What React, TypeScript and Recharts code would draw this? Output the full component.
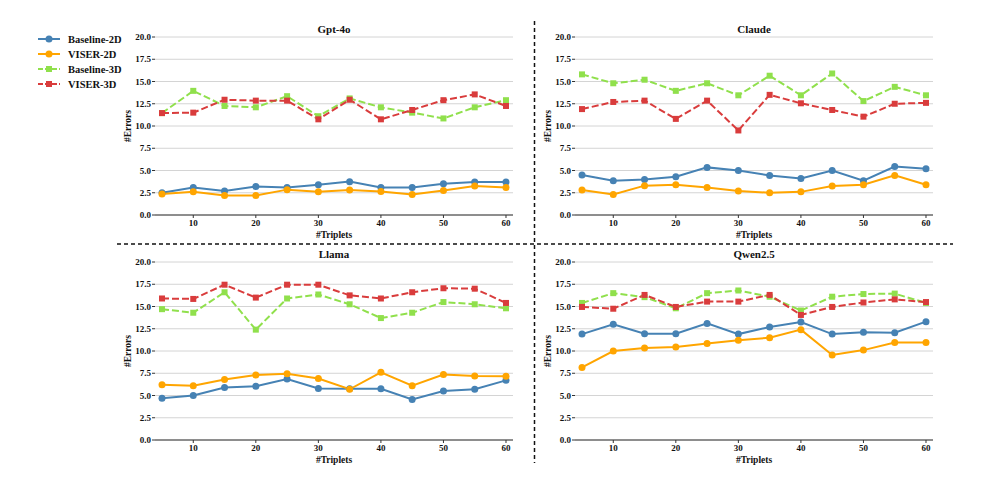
import { LineChart, Line, XAxis, YAxis, CartesianGrid } from "recharts"

const TRIPLETS = [5, 10, 15, 20, 25, 30, 35, 40, 45, 50, 55, 60]
const X_TICKS = [10, 20, 30, 40, 50, 60]
const Y_TICKS = [0, 2.5, 5, 7.5, 10, 12.5, 15, 17.5, 20]

// Gpt-4o
const gptBaseline2D = [2.5, 3.1, 2.7, 3.2, 3.1, 3.4, 3.75, 3.1, 3.1, 3.5, 3.7, 3.7]
const gptViser2D = [2.35, 2.6, 2.2, 2.2, 2.85, 2.6, 2.8, 2.65, 2.3, 2.75, 3.25, 3.1]
const gptBaseline3D = [11.45, 13.95, 12.25, 12.1, 13.35, 11.1, 13.1, 12.1, 11.5, 10.85, 12.1, 12.9]
const gptViser3D = [11.45, 11.5, 12.95, 12.85, 12.85, 10.75, 12.95, 10.75, 11.8, 12.9, 13.55, 12.25]

// Claude
const claudeBaseline2D = [4.5, 3.85, 4.0, 4.3, 5.35, 5.0, 4.45, 4.1, 5.0, 3.85, 5.45, 5.2]
const claudeViser2D = [2.8, 2.3, 3.3, 3.4, 3.1, 2.7, 2.5, 2.6, 3.25, 3.4, 4.45, 3.4]
const claudeBaseline3D = [15.8, 14.8, 15.2, 13.95, 14.8, 13.45, 15.65, 13.45, 15.9, 12.8, 14.4, 13.45]
const claudeViser3D = [11.9, 12.7, 12.85, 10.8, 12.85, 9.5, 13.5, 12.55, 11.8, 11.05, 12.5, 12.6]

// Llama
const llamaBaseline2D = [4.7, 5.0, 5.9, 6.05, 6.85, 5.8, 5.75, 5.75, 4.55, 5.5, 5.7, 6.7]
const llamaViser2D = [6.2, 6.1, 6.8, 7.3, 7.45, 6.9, 5.7, 7.6, 6.1, 7.35, 7.2, 7.15]
const llamaBaseline3D = [14.7, 14.3, 16.6, 12.4, 15.9, 16.35, 15.25, 13.7, 14.3, 15.5, 15.25, 14.8]
const llamaViser3D = [15.9, 15.85, 17.45, 16.0, 17.45, 17.45, 16.25, 15.9, 16.6, 17.05, 17.0, 15.4]

// Qwen2.5
const qwenBaseline2D = [11.9, 13.0, 11.95, 11.95, 13.1, 11.9, 12.7, 13.25, 11.9, 12.1, 12.05, 13.3]
const qwenViser2D = [8.15, 10.0, 10.35, 10.45, 10.85, 11.2, 11.5, 12.4, 9.55, 10.1, 10.95, 10.95]
const qwenBaseline3D = [15.4, 16.5, 16.05, 14.8, 16.5, 16.8, 16.1, 14.55, 16.1, 16.4, 16.45, 15.4]
const qwenViser3D = [14.95, 14.75, 16.3, 14.95, 15.55, 15.55, 16.3, 14.05, 14.95, 15.45, 15.8, 15.5]

const SERIES = [
  { key: "baseline2d", name: "Baseline-2D", color: "#4682b4", dashed: false },
  { key: "viser2d", name: "VISER-2D", color: "#ffa500", dashed: false },
  { key: "baseline3d", name: "Baseline-3D", color: "#90e04c", dashed: true },
  { key: "viser3d", name: "VISER-3D", color: "#d93c3c", dashed: true },
]

const PANELS = [
  { title: "Gpt-4o", values: [gptBaseline2D, gptViser2D, gptBaseline3D, gptViser3D], left: 100, top: 20 },
  { title: "Claude", values: [claudeBaseline2D, claudeViser2D, claudeBaseline3D, claudeViser3D], left: 520, top: 20 },
  { title: "Llama", values: [llamaBaseline2D, llamaViser2D, llamaBaseline3D, llamaViser3D], left: 100, top: 245 },
  { title: "Qwen2.5", values: [qwenBaseline2D, qwenViser2D, qwenBaseline3D, qwenViser3D], left: 520, top: 245 },
]

const FONT = '"Liberation Serif", "Times New Roman", serif'
const CHART_W = 420
const CHART_H = 225
const Y_AXIS_W = 55

function makeDot(color: string, square: boolean) {
  return (props: any) => {
    const { cx, cy, index } = props
    if (cx == null || cy == null) return <g key={index} />
    return square ? (
      <rect key={index} x={cx - 3} y={cy - 3} width={6} height={6} fill={color} />
    ) : (
      <circle key={index} cx={cx} cy={cy} r={3.5} fill={color} />
    )
  }
}

function Panel({ title, values, left, top }: { title: string; values: number[][]; left: number; top: number }) {
  const rows = TRIPLETS.map((t, i) => {
    const row: Record<string, number> = { t }
    SERIES.forEach((s, j) => (row[s.key] = values[j][i]))
    return row
  })
  const tickStyle = { fontSize: 9, fontWeight: "bold", fill: "#111", fontFamily: FONT }

  return (
    <div style={{ position: "absolute", left, top, width: CHART_W, height: CHART_H, fontFamily: FONT, fontWeight: "bold" }}>
      <div
        style={{
          position: "absolute", left: Y_AXIS_W, width: CHART_W - Y_AXIS_W - 7, top: 3,
          textAlign: "center", fontSize: 11, color: "#111",
        }}
      >
        {title}
      </div>
      <LineChart
        width={CHART_W} height={CHART_H} data={rows}
        margin={{ top: 17, right: 7, bottom: 0, left: 0 }}
        style={{ fontFamily: FONT }}
      >
        <CartesianGrid horizontal vertical={false} stroke="#d4d4d4" />
        <XAxis
          dataKey="t" type="number" domain={[3.88, 61.12]} ticks={X_TICKS} height={30}
          axisLine={{ stroke: "#333" }} tickLine={{ stroke: "#333" }} tickSize={3} tickMargin={2}
          tick={tickStyle}
          label={{ value: "#Triplets", position: "insideBottom", offset: 7, style: { ...tickStyle, fontSize: 9.5 } }}
        />
        <YAxis
          type="number" domain={[0, 20]} ticks={Y_TICKS} width={Y_AXIS_W} interval={0}
          axisLine={false} tickLine={{ stroke: "#333" }} tickSize={3} tickMargin={1}
          tick={tickStyle} tickFormatter={(v: number) => v.toFixed(1)}
          label={{ value: "#Errors", angle: -90, position: "center", style: { ...tickStyle, fontSize: 9.5 } }}
        />
        {SERIES.map((s) => (
          <Line
            key={s.key} dataKey={s.key} name={s.name} stroke={s.color} strokeWidth={2}
            strokeDasharray={s.dashed ? "7 3" : undefined}
            dot={makeDot(s.color, s.dashed)} activeDot={false} isAnimationActive={false}
          />
        ))}
      </LineChart>
    </div>
  )
}

export default function App() {
  return (
    <div style={{ position: "absolute", left: 0, top: 0, width: 996, height: 488, background: "#fff", overflow: "hidden" }}>
      {PANELS.map((p) => (
        <Panel key={p.title} {...p} />
      ))}

      <svg width={996} height={488} style={{ position: "absolute", left: 0, top: 0, pointerEvents: "none" }}>
        <line x1={534.5} y1={21} x2={534.5} y2={463} stroke="#111" strokeWidth={1.5} strokeDasharray="4 3" />
        <line x1={117} y1={244} x2={953} y2={244} stroke="#111" strokeWidth={1.5} strokeDasharray="4 3" />
        {SERIES.map((s, i) => {
          const y = 39 + i * 15
          return (
            <g key={s.key}>
              <line x1={38} y1={y} x2={60} y2={y} stroke={s.color} strokeWidth={2} strokeDasharray={s.dashed ? "5 2" : undefined} />
              {s.dashed ? (
                <rect x={46} y={y - 3} width={6} height={6} fill={s.color} />
              ) : (
                <circle cx={49} cy={y} r={3.5} fill={s.color} />
              )}
              <text x={68} y={y} dominantBaseline="central" fontFamily={FONT} fontWeight="bold" fontSize={10.5} fill="#111">
                {s.name}
              </text>
            </g>
          )
        })}
      </svg>
    </div>
  )
}
